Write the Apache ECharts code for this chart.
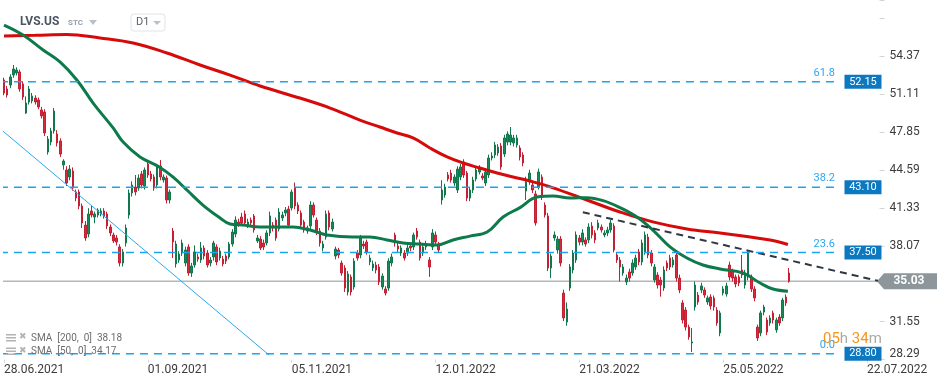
<!DOCTYPE html>
<html><head><meta charset="utf-8">
<script src="https://cdn.jsdelivr.net/npm/echarts@6/dist/echarts.min.js"></script>
<style>html,body{margin:0;padding:0;background:#fff}#c{width:949px;height:385px}</style>
</head><body><div id="c"></div>
<script>
// ---- data ----
const dateLabels = ['28.06.2021','01.09.2021','05.11.2021','12.01.2022','21.03.2022','25.05.2022','22.07.2022'];
const yTickLabels = ['28.29','31.55','38.07','41.33','44.59','47.85','51.11','54.37'];
// [open, close, low, high]
const candles = [
[52.31,51.19,51.0,52.5],[51.54,51.02,50.8,51.8],[51.88,52.57,51.6,52.8],[52.74,53.25,52.5,53.6],[52.91,53.17,52.7,53.4],
[53.00,51.54,51.3,53.2],[51.97,50.85,50.6,52.2],[49.47,50.33,49.4,50.9],[50.42,51.54,50.2,51.8],[50.51,50.93,50.3,51.2],
[50.76,50.42,50.2,51.0],[50.59,49.99,49.8,50.8],[49.73,49.22,49.0,50.0],[49.56,47.76,47.5,49.8],[46.12,47.24,45.9,47.5],
[46.98,47.93,46.7,48.2],[47.93,49.65,47.7,49.9],[47.67,46.90,46.6,48.0],[47.07,45.95,45.7,47.3],[45.01,45.35,44.6,45.5],
[44.58,43.46,43.2,44.9],[43.98,44.66,43.7,45.0],[44.49,43.03,42.8,44.8],[42.69,42.17,41.9,42.9],[42.69,41.49,41.2,42.9],
[41.49,40.03,39.6,41.7],[39.85,38.74,38.5,40.2],[39.08,40.80,38.8,41.3],[41.06,40.71,40.5,41.5],[40.54,40.80,40.0,41.0],
[40.71,41.14,40.5,41.3],[40.80,41.06,40.6,41.3],[41.06,40.63,40.4,41.3],[40.80,39.77,39.5,41.0],[39.68,39.17,38.9,39.9],
[39.00,38.48,38.3,39.2],[38.74,38.39,38.1,39.0],[37.97,36.59,36.3,38.2],[36.59,37.54,36.3,37.8],[38.31,39.60,38.0,39.9],
[40.71,42.60,40.4,42.9],[42.60,43.29,42.3,43.6],[43.12,42.69,42.4,44.15],[43.03,43.89,42.8,44.2],[44.24,43.29,43.0,44.5],
[43.20,44.58,42.9,44.8],[45.09,44.15,43.9,45.3],[44.24,43.81,43.6,44.5],[43.98,43.03,42.8,44.2],[43.29,44.84,43.0,45.1],
[44.92,43.98,43.7,45.44],[43.72,43.98,43.5,44.2],[43.89,42.00,41.7,44.1],[42.00,42.69,41.7,42.9],[39.34,38.39,37.02,39.6],
[36.51,38.22,36.2,38.5],[36.85,37.36,36.6,37.6],[37.45,38.31,37.2,38.6],[36.59,37.71,36.3,38.0],[37.97,35.73,35.5,38.2],
[35.73,36.33,35.4,36.6],[36.42,37.54,36.2,38.1],[37.11,36.93,36.7,37.4],[36.85,37.88,36.6,38.4],[37.88,37.19,36.9,38.1],
[37.45,36.42,36.2,37.7],[36.59,36.85,36.3,37.1],[37.11,38.31,36.8,38.5],[37.97,36.68,36.4,38.2],[37.02,37.62,36.8,37.9],
[36.93,36.51,36.3,37.2],[37.19,36.76,36.5,37.4],[37.11,38.22,36.9,38.4],[38.22,39.25,38.0,39.5],[39.08,40.28,38.8,40.6],
[40.11,39.94,39.7,40.4],[40.54,40.03,39.8,40.9],[40.80,40.03,39.8,41.1],[39.85,40.11,39.6,40.4],[40.28,40.03,39.8,40.5],
[40.63,39.43,39.2,40.8],[38.48,38.74,38.3,39.0],[38.65,37.88,37.7,38.9],[38.31,37.97,37.7,38.6],[38.31,39.17,38.1,39.4],
[39.17,40.63,38.9,41.0],[39.85,39.60,39.3,40.1],[40.28,38.74,38.5,40.5],[39.51,40.97,39.3,41.3],[40.46,40.71,40.2,41.0],
[40.89,41.14,40.6,41.4],[41.23,39.85,39.6,41.5],[41.32,42.69,41.1,42.9],[43.12,41.49,41.2,43.5],[41.57,41.06,40.8,41.8],
[40.89,39.85,39.6,41.1],[40.11,39.43,39.2,40.3],[39.34,39.60,39.1,39.8],[39.77,41.57,39.5,41.9],[41.57,40.71,40.5,41.8],
[40.28,39.25,39.0,40.5],[39.34,38.31,38.0,39.6],[37.88,38.22,37.6,38.5],[38.82,40.80,38.6,41.1],[40.89,39.68,39.4,41.1],
[39.51,40.11,39.3,40.4],[37.19,37.79,36.9,38.0],[37.71,37.28,37.0,37.9],[36.59,35.73,35.5,36.8],[36.16,34.44,34.1,36.4],
[34.10,35.65,33.8,35.9],[35.39,34.10,33.8,35.6],[34.53,36.76,34.3,37.0],[37.45,37.02,36.8,37.7],[37.28,38.74,37.0,39.0],
[38.22,38.05,37.8,38.5],[38.39,37.54,37.3,38.6],[36.68,37.02,36.4,37.3],[36.16,36.51,35.9,36.8],[36.42,35.99,35.7,36.7],
[36.25,34.96,34.7,36.5],[34.53,35.47,34.3,35.7],[34.36,34.01,33.8,34.6],[34.44,36.76,34.2,37.0],[36.59,37.11,36.3,37.4],
[39.00,38.31,38.0,39.2],[38.05,37.79,37.5,38.3],[37.45,37.88,37.2,38.1],[37.45,37.02,36.8,37.7],[37.45,37.88,37.2,38.2],
[38.05,37.88,37.6,38.3],[37.97,39.00,37.7,39.2],[39.34,38.82,38.6,39.6],[38.39,37.02,36.8,38.6],[37.45,37.97,37.2,38.2],
[37.97,38.22,37.7,38.5],[36.85,36.25,35.4,37.1],[37.97,39.17,37.7,39.5],[39.00,38.39,38.1,39.3],[38.14,37.71,37.5,38.4],
[42.00,42.86,41.6,43.7],[42.43,43.12,42.2,43.4],[44.15,43.81,43.6,44.4],[44.32,43.72,43.5,44.6],[43.46,43.98,43.2,44.2],
[42.86,44.66,42.6,44.9],[43.98,44.84,43.7,45.1],[45.27,44.15,43.9,45.5],[44.32,42.17,41.9,44.5],[42.17,42.86,41.9,43.1],
[42.86,43.72,42.6,44.0],[43.81,44.58,43.6,44.8],[44.41,44.75,44.2,45.0],[44.06,43.89,43.7,44.3],[43.46,44.41,43.2,44.7],
[44.15,45.61,43.9,45.9],[45.61,45.78,45.4,46.1],[45.87,46.73,45.6,47.0],[46.04,46.55,45.8,46.8],[46.64,44.84,44.6,46.9],
[45.95,47.33,45.7,47.6],[46.98,47.67,46.7,47.9],[46.98,47.58,46.7,48.27],[46.90,47.33,46.6,47.6],[46.73,47.33,46.5,47.6],
[46.47,45.70,45.4,46.7],[45.87,45.18,44.9,46.1],[42.78,43.55,42.0,44.0],[43.55,44.32,43.3,44.6],[43.29,42.86,42.6,43.5],
[42.52,40.03,39.8,42.8],[43.12,44.41,42.9,44.7],[43.98,42.26,42.0,44.2],[41.57,40.71,40.5,41.8],[40.63,36.16,35.9,40.9],
[36.16,37.19,35.3,37.4],[38.74,39.00,38.5,39.3],[37.71,38.65,37.4,38.9],[38.65,36.59,36.3,38.9],[34.01,31.87,31.6,34.3],
[31.52,32.64,31.2,33.2],[34.44,36.25,34.2,36.5],[35.99,37.45,35.7,37.7],[36.85,39.00,36.6,39.3],[38.74,38.39,38.1,39.0],
[38.39,39.17,38.1,39.5],[38.57,38.22,38.0,38.8],[38.57,39.68,38.3,40.0],[39.77,39.00,38.7,40.1],[39.17,38.57,38.3,39.4],
[39.60,40.03,39.4,40.3],[39.68,39.43,39.2,39.9],[39.00,39.17,38.8,39.4],[39.17,39.43,38.9,39.7],[39.43,40.03,39.2,40.3],
[39.77,37.71,37.5,40.0],[37.28,36.85,36.6,37.5],[36.85,36.25,35.0,37.1],[35.73,36.25,35.5,36.5],[34.96,35.30,34.7,35.6],
[35.82,35.30,35.0,36.1],[35.73,36.59,35.5,36.9],[36.25,37.02,36.0,37.3],[37.54,36.68,36.4,37.8],[36.68,38.31,36.4,38.6],
[37.54,39.00,37.3,39.3],[38.82,37.28,37.0,39.1],[37.45,36.59,36.3,37.7],[35.13,36.25,34.9,36.5],[35.56,34.70,34.4,35.8],
[35.13,34.70,33.7,35.4],[34.44,35.99,34.2,36.3],[36.59,36.16,35.9,36.8],[37.02,36.25,36.0,37.3],[36.42,36.85,36.2,37.1],
[37.28,35.30,35.0,37.5],[35.30,34.27,34.0,35.6],[33.16,31.70,31.4,33.4],[32.55,31.09,30.8,32.8],[31.09,30.24,30.0,31.3],
[29.72,29.81,28.95,31.0],[32.81,34.70,32.5,35.0],[33.84,33.24,33.0,34.1],[34.27,34.62,34.0,34.9],[34.27,33.84,33.6,34.5],
[33.24,33.59,33.0,33.8],[33.67,32.90,32.6,33.9],[33.59,32.81,32.5,33.8],[32.55,31.44,31.2,32.8],[30.58,32.30,30.3,32.5],
[34.01,34.36,33.8,34.6],[33.93,34.62,33.7,34.9],[36.42,35.39,35.1,36.7],[35.90,35.30,35.0,36.1],[35.39,34.79,34.5,35.6],
[35.39,34.87,34.6,35.6],[35.99,35.56,35.3,37.28],[34.70,35.73,34.4,36.0],[35.39,37.54,35.1,37.7],[35.39,34.36,34.1,35.6],
[34.36,33.59,33.3,34.6],[31.09,30.15,29.9,31.3],[30.58,32.30,30.3,32.5],[32.38,32.81,32.1,33.0],[31.70,30.66,30.4,31.9],
[31.44,31.87,31.2,32.1],[32.30,31.70,31.4,32.5],[30.84,31.70,30.6,31.9],[31.95,31.44,31.2,32.2],[31.87,33.41,31.6,33.6],
[33.67,33.16,32.9,33.9],[35.73,35.03,34.9,36.16]
];
// SMA readings: [bar index, price]
const sma50 = [[0,57.03],[6.1,56.17],[12.5,54.89],[17.9,53.86],[23.3,52.31],[28.5,50.33],[34.9,48.19],[38.1,46.98],[43.5,45.70],[49.9,44.80],[54,43.98],[58.5,42.86],[63.6,41.57],[69.1,40.46],[72.3,39.94],[76.4,39.85],[81.9,39.68],[87.3,39.68],[92.4,39.68],[97.9,39.42],[103.3,39.0],[111.6,38.82],[117,38.82],[122.5,38.57],[127.6,38.31],[133,38.22],[138.5,38.14],[143.6,38.57],[149,38.9],[154.5,39.25],[159.6,40.54],[165,41.35],[170.5,42.26],[175.6,42.34],[181,42.17],[186.4,42.2],[191.6,41.95],[197,41.35],[202.4,40.54],[207.5,39.42],[213,37.97],[218.4,37.02],[223.5,36.42],[229,36.08],[236.3,35.73],[241.8,34.87],[245.9,34.36],[250.7,34.17]];
const sma200 = [[0,56.09],[10,56.15],[20,56.22],[30.7,55.92],[41.3,55.49],[52.1,54.63],[62.7,53.6],[72.3,52.73],[81.9,51.79],[94.6,50.76],[104.3,49.9],[113.8,48.87],[120.2,48.27],[125.7,47.76],[130.8,47.33],[136.2,46.47],[141.7,45.70],[146.8,45.18],[152.2,44.75],[157.7,44.32],[162.8,43.98],[168.2,43.63],[175.6,43.05],[186.4,42.0],[197,40.97],[207.5,40.12],[218.4,39.51],[229,39.17],[236.3,38.91],[245,38.57],[250.7,38.18]];
const fibLevels = [52.15, 43.10, 37.50, 28.80];
const fibPct = ['61.8','38.2','23.6','0.0'];
const lastPrice = 35.03;
const blueTrend = [[-0.7,48.0],[84.7,28.7]];
const blackTrend = [[185.1,40.95],[279.5,35.06]];
const smaLegend = ['SMA  [200,  0]  38.18','SMA  [50,  0]  34.17'];

// ---- chart ----
const FONT = 'Roboto';
const XMAX = 280, FIB_END = 266.7, BOX_X = 274.7, LINE_END = 279.5, LINE_START = -1.3;
const chart = echarts.init(document.getElementById('c'), null, {renderer:'canvas'});

const fibSeries = fibLevels.map((v,k)=>({
  type:'line', data:[[LINE_START,v],[FIB_END,v]], symbol:'none', clip:false, z:6, silent:true,
  lineStyle:{color:'#1ba4ee', width:1.5, type:[8,6]},
  markPoint:{ silent:true, animation:false, data:[
    {coord:[BOX_X,v], symbol:'rect', symbolSize:[37,14], itemStyle:{color:'#0b78c0'},
     label:{show:true, formatter:v.toFixed(2), color:'#fff', fontSize:11, fontFamily:FONT}},
    {coord:[FIB_END,v], symbol:'rect', symbolSize:0,
     label:{show:true, position:'inside', formatter:fibPct[k], align:'right', verticalAlign:'bottom', offset:[-3,-3], color:'#2aa8ef', fontSize:11, fontFamily:FONT}}
  ]}
}));

chart.setOption({
  animation:false,
  grid:{left:4, right:69.44, top:0, bottom:25.35, containLabel:false},
  xAxis:{type:'value', min:0, max:XMAX, interval:46,
    axisLine:{show:false, onZero:false}, splitLine:{show:false},
    axisTick:{show:true, length:3, lineStyle:{color:'#d5d5d5'}},
    axisLabel:{show:true, showMaxLabel:false, align:'left', margin:4, color:'#3c3c3c', fontSize:12, fontFamily:FONT,
      formatter:v=>{const k=Math.round(v/46); return (Math.abs(v-k*46)<0.01 && dateLabels[k])?dateLabels[k]:'';}}},
  yAxis:{type:'value', position:'right', min:28.29, max:59.18, interval:3.26, scale:true,
    axisLine:{show:false, onZero:false}, splitLine:{show:false},
    axisTick:{show:true, length:5, lineStyle:{color:'#d5d5d5'}},
    axisLabel:{margin:10, color:'#3c3c3c', fontSize:12, fontFamily:FONT,
      formatter:v=>{const s=v.toFixed(2); if(!yTickLabels.includes(s)) return ''; return s==='28.29'?'{low|'+s+'}':s;},
      rich:{low:{padding:[0,0,11,0], color:'#3c3c3c', fontSize:12, fontFamily:FONT}}}},
  series:[
    {type:'line', data:[[LINE_START,lastPrice],[LINE_END,lastPrice]], symbol:'none', clip:false, z:1, silent:true,
     lineStyle:{color:'#8d959a', width:1},
     markPoint:{silent:true, animation:false, data:[{coord:[LINE_END,lastPrice], symbol:'path://M0,8L7,0L60,0L60,16L7,16Z', symbolSize:[60,16], symbolKeepAspect:false, symbolOffset:[29,0], itemStyle:{color:'#8c969b'},
       label:{show:true, formatter:lastPrice.toFixed(2), color:'#fff', fontWeight:'bold', fontSize:12, fontFamily:FONT, offset:[2,0]}}]}},
    {type:'candlestick', clip:false, z:2, barWidth:2,
     dimensions:['x','open','close','lowest','highest'], encode:{x:'x', y:['open','close','lowest','highest']},
     data:candles.map((c,i)=>[i,c[0],c[1],c[2],c[3]]),
     itemStyle:{color:'#178a5a', color0:'#d62a3e', borderColor:'#12774d', borderColor0:'#c41f33', borderWidth:1}},
    {type:'line', data:sma200, smooth:0.4, symbol:'none', z:3, clip:false, lineStyle:{color:'#d60a0a', width:3}},
    {type:'line', data:sma50, smooth:0.4, symbol:'none', z:3, clip:false, lineStyle:{color:'#0d7a4b', width:3}},
    {type:'line', data:blueTrend, symbol:'none', z:4, clip:false, lineStyle:{color:'#2aa8ee', width:1}},
    {type:'line', data:blackTrend, symbol:'none', z:5, clip:false, lineStyle:{color:'#2f3841', width:2, type:[7,5]}},
    ...fibSeries
  ],
  graphic:[
    {type:'text', left:20, top:16, z:20, style:{text:'LVS.US', fill:'#4c5663', font:'bold 12px Roboto'}},
    {type:'text', left:68, top:19, z:20, style:{text:'STC', fill:'#93a0ae', font:'bold 8px Roboto'}},
    {type:'polygon', z:20, shape:{points:[[89,20],[97,20],[93,25]]}, style:{fill:'#b9c0c8'}},
    {type:'rect', z:20, shape:{x:131,y:14,width:34,height:17,r:3}, style:{fill:'#fff', stroke:'#dfe3e8', lineWidth:1}},
    {type:'text', left:136, top:17, z:21, style:{text:'D1', fill:'#5a6470', font:'11px Roboto'}},
    {type:'polygon', z:21, shape:{points:[[153,21],[161,21],[157,25]]}, style:{fill:'#b9c0c8'}},
    // legend rows
    ...smaLegend.flatMap((t,k)=>{const y=334+k*13.5; return [
      {type:'rect', z:20, shape:{x:6,y:y,width:10,height:1.5}, style:{fill:'#b3b3b3'}},
      {type:'rect', z:20, shape:{x:6,y:y+3,width:10,height:1.5}, style:{fill:'#b3b3b3'}},
      {type:'rect', z:20, shape:{x:6,y:y+6,width:10,height:1.5}, style:{fill:'#b3b3b3'}},
      {type:'text', left:19, top:y-1.5, z:20, style:{text:'✖', fill:'#b3b3b3', font:'9px DejaVu Sans'}},
      {type:'text', left:31, top:y-1, z:20, style:{text:t, fill:'#6d6d6d', font:'10px Roboto'}}
    ];}),
    {type:'text', left:823, top:332, z:20, style:{text:'{o|05}{g|h }{o|34}{g|m}', rich:{o:{fill:'#f7941d', font:'15px Roboto'}, g:{fill:'#a9a9a9', font:'15px Roboto'}}}}
  ]
});
</script></body></html>
